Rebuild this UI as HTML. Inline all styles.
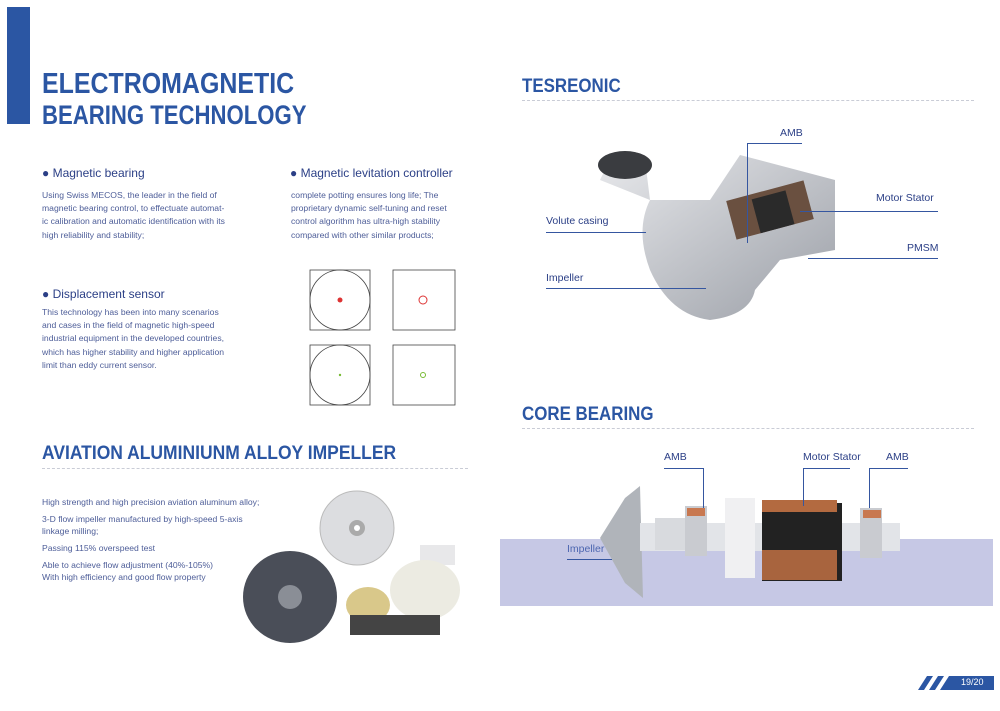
<!DOCTYPE html>
<html><head><meta charset="utf-8"><style>
*{margin:0;padding:0;box-sizing:border-box}
body{width:1000px;height:711px;background:#fff;position:relative;overflow:hidden;font-family:"Liberation Sans",sans-serif;color:#3f4f94}
.a{position:absolute;white-space:nowrap}
.t{color:#2b56a3;font-weight:bold;transform-origin:0 0}
.h{font-size:12px;color:#2b3f86}
.p{font-size:8.6px;line-height:13.2px;color:#4d5d98}
.dash{position:absolute;height:0;border-top:1px dashed #c9ccd6}
.ln{position:absolute;background:#3556a0}
.lb{font-size:10.5px;color:#2b3f86}
</style></head><body>
<div class="a" style="left:7px;top:7px;width:23px;height:117px;background:#2b56a3"></div>
<div class="a t" style="left:42px;top:68px;font-size:29px;line-height:32px;transform:scaleX(0.86)">ELECTROMAGNETIC</div>
<div class="a t" style="left:42px;top:99px;font-size:27px;line-height:32px;transform:scaleX(0.82)">BEARING TECHNOLOGY</div>

<div class="a h" style="left:42px;top:166px">● Magnetic bearing</div>
<div class="a p" style="left:42px;top:189px">Using Swiss MECOS, the leader in the field of<br>magnetic bearing control, to effectuate automat-<br>ic calibration and automatic identification with its<br>high reliability and stability;</div>
<div class="a h" style="left:290px;top:166px">● Magnetic levitation controller</div>
<div class="a p" style="left:291px;top:189px">complete potting ensures long life; The<br>proprietary dynamic self-tuning and reset<br>control algorithm has ultra-high stability<br>compared with other similar products;</div>
<div class="a h" style="left:42px;top:287px">● Displacement sensor</div>
<div class="a p" style="left:42px;top:306px">This technology has been into many scenarios<br>and cases in the field of magnetic high-speed<br>industrial equipment in the developed countries,<br>which has higher stability and higher application<br>limit than eddy current sensor.</div>

<svg class="a" style="left:300px;top:262px" width="160" height="150">
<g fill="none" stroke="#444" stroke-width="0.8">
<rect x="10" y="8" width="60" height="60"/><circle cx="40" cy="38" r="30"/>
<rect x="93" y="8" width="62" height="60"/>
<rect x="10" y="83" width="60" height="60"/><circle cx="40" cy="113" r="30"/>
<rect x="93" y="83" width="62" height="60"/></g>
<circle cx="40" cy="38" r="2.5" fill="#d33"/>
<circle cx="123" cy="38" r="4" fill="none" stroke="#d33"/>
<circle cx="40" cy="113" r="1.2" fill="#7b3"/>
<circle cx="123" cy="113" r="2.5" fill="none" stroke="#7b3"/>
</svg>

<div class="a t" style="left:42px;top:443px;font-size:19px;transform:scaleX(0.92)">AVIATION ALUMINIUNM ALLOY IMPELLER</div>
<div class="dash" style="left:42px;top:468px;width:426px"></div>
<div class="a p" style="left:42px;top:496px;line-height:12px">High strength and high precision aviation aluminum alloy;</div>
<div class="a p" style="left:42px;top:513px;line-height:12px">3-D flow impeller manufactured by high-speed 5-axis<br>linkage milling;</div>
<div class="a p" style="left:42px;top:542px;line-height:12px">Passing 115% overspeed test</div>
<div class="a p" style="left:42px;top:559px;line-height:12px">Able to achieve flow adjustment (40%-105%)<br>With high efficiency and good flow property</div>
<svg class="a" style="left:240px;top:485px" width="230" height="160">
<circle cx="117" cy="43" r="37" fill="#dcdde0" stroke="#bbb"/>
<circle cx="117" cy="43" r="8" fill="#aaa"/><circle cx="117" cy="43" r="3" fill="#fff"/>
<ellipse cx="50" cy="112" rx="47" ry="46" fill="#4a4e58"/>
<circle cx="50" cy="112" r="12" fill="#8a8e96"/>
<rect x="180" y="60" width="35" height="20" fill="#e8e8ea"/>
<ellipse cx="185" cy="105" rx="35" ry="30" fill="#ecebe2"/>
<ellipse cx="128" cy="120" rx="22" ry="18" fill="#d9c88a"/>
<rect x="110" y="130" width="90" height="20" fill="#444"/>
</svg>

<div class="a t" style="left:522px;top:76px;font-size:19px;transform:scaleX(0.89)">TESREONIC</div>
<div class="dash" style="left:522px;top:100px;width:452px"></div>
<svg class="a" style="left:590px;top:140px" width="260" height="190">
<defs><linearGradient id="g" x1="0" x2="1" y1="0" y2="1"><stop offset="0" stop-color="#e8e9ec"/><stop offset="1" stop-color="#9a9ea6"/></linearGradient></defs>
<path d="M10 40 Q20 15 55 20 L60 60 Q45 90 60 130 Q80 175 120 180 Q160 175 165 150 L190 120 L245 110 L245 40 L150 15 L120 60 L60 60 Z" fill="url(#g)"/>
<ellipse cx="35" cy="25" rx="27" ry="14" fill="#3a3c40"/>
<rect x="140" y="50" width="80" height="40" fill="#6a5040" transform="rotate(-15 180 70)"/>
<rect x="165" y="55" width="35" height="35" fill="#2a2a2a" transform="rotate(-15 180 70)"/>
</svg>
<div class="a lb" style="left:780px;top:127px">AMB</div>
<div class="ln" style="left:747px;top:143px;width:55px;height:1px"></div>
<div class="ln" style="left:747px;top:143px;width:1px;height:100px"></div>
<div class="a lb" style="left:876px;top:192px">Motor Stator</div>
<div class="ln" style="left:800px;top:211px;width:138px;height:1px"></div>
<div class="a lb" style="left:907px;top:242px">PMSM</div>
<div class="ln" style="left:808px;top:258px;width:130px;height:1px"></div>
<div class="a lb" style="left:546px;top:215px">Volute casing</div>
<div class="ln" style="left:546px;top:232px;width:100px;height:1px"></div>
<div class="a lb" style="left:546px;top:272px">Impeller</div>
<div class="ln" style="left:546px;top:288px;width:160px;height:1px"></div>

<div class="a t" style="left:522px;top:404px;font-size:19px;transform:scaleX(0.89)">CORE BEARING</div>
<div class="dash" style="left:522px;top:428px;width:452px"></div>
<div class="a" style="left:500px;top:539px;width:493px;height:67px;background:#c6c8e5"></div>
<svg class="a" style="left:595px;top:478px" width="320" height="125">
<polygon points="30,20 45,8 48,120 30,105 5,60" fill="#b0b4ba"/>
<rect x="45" y="45" width="260" height="28" fill="#e2e4e8"/>
<rect x="60" y="40" width="40" height="32" fill="#d8dade"/>
<rect x="90" y="28" width="22" height="50" fill="#c9cbd0"/>
<rect x="130" y="20" width="30" height="80" fill="#f0f0f2"/>
<rect x="167" y="25" width="80" height="78" fill="#222"/>
<rect x="167" y="22" width="75" height="12" fill="#b36a40"/>
<rect x="167" y="72" width="75" height="30" fill="#a8643e"/>
<rect x="265" y="30" width="22" height="50" fill="#c9cbd0"/>
<rect x="92" y="30" width="18" height="8" fill="#c87850"/>
<rect x="268" y="32" width="18" height="8" fill="#c87850"/>
</svg>
<div class="a lb" style="left:664px;top:451px">AMB</div>
<div class="ln" style="left:664px;top:468px;width:40px;height:1px"></div>
<div class="ln" style="left:703px;top:468px;width:1px;height:40px"></div>
<div class="a lb" style="left:803px;top:451px">Motor Stator</div>
<div class="ln" style="left:803px;top:468px;width:47px;height:1px"></div>
<div class="ln" style="left:803px;top:468px;width:1px;height:38px"></div>
<div class="a lb" style="left:886px;top:451px">AMB</div>
<div class="ln" style="left:869px;top:468px;width:39px;height:1px"></div>
<div class="ln" style="left:869px;top:468px;width:1px;height:40px"></div>
<div class="a lb" style="left:567px;top:543px;color:#4d66b0">Impeller</div>
<div class="ln" style="left:567px;top:559px;width:45px;height:1px"></div>

<svg class="a" style="left:918px;top:674px" width="76" height="18">
<polygon points="0,16 9,2 15,2 6,16" fill="#2b56a3"/>
<polygon points="11,16 20,2 26,2 17,16" fill="#2b56a3"/>
<polygon points="22,16 31,2 76,2 76,16" fill="#2b56a3"/>
</svg>
<div class="a" style="left:961px;top:677px;font-size:9px;color:#fff">19/20</div>
</body></html>
